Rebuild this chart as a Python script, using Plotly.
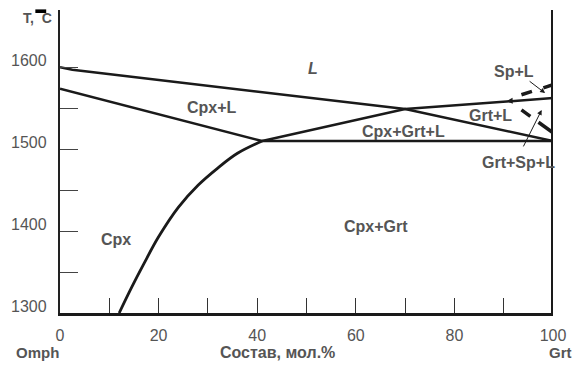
import plotly.graph_objects as go

# ---- data (composition, mol.% Grt ; temperature, C) ----
liquidus_x = [0, 2.5, 70, 100]
liquidus_y = [1600, 1597, 1549, 1510]

cpx_l_x = [0, 41]
cpx_l_y = [1574, 1510]

grt_liq_x = [41, 70, 100]
grt_liq_y = [1510, 1549, 1562.5]

solvus_x = [12, 14.5, 17, 20, 24, 28, 32, 36, 41]
solvus_y = [1300, 1331, 1360, 1393, 1429, 1456, 1477, 1495, 1510]

eutectic_x = [41, 100]
eutectic_y = [1510, 1510]

sp_upper_x = [93.6, 100]
sp_upper_y = [1566.5, 1578.7]

sp_lower_x = [93.6, 99.8]
sp_lower_y = [1548, 1521]

grt_edge_x = [100, 100]
grt_edge_y = [1300, 1670]

x_tick_vals = [0, 10, 20, 30, 40, 50, 60, 70, 80, 90, 100]
x_tick_text = ["0", "", "20", "", "40", "", "60", "", "80", "", "100"]
y_tick_vals = [1300, 1350, 1400, 1450, 1500, 1550, 1600]
y_label_vals = [1300, 1400, 1500, 1600]

region_labels = [
    ("L", 51.3, 1599, True),
    ("Cpx+L", 30.8, 1551, False),
    ("Sp+L", 92.1, 1595, False),
    ("Grt+L", 87.4, 1541.5, False),
    ("Cpx+Grt+L", 69.6, 1522, False),
    ("Grt+Sp+L", 93.1, 1484, False),
    ("Cpx", 11.4, 1390, False),
    ("Cpx+Grt", 64.1, 1406, False),
]

FONT = "Arial, Liberation Sans, sans-serif"
LINE = "#1a1a1a"
TXT = "#555555"

fig = go.Figure()

def add_line(x, y, width=2.5, dash=None, shape="linear"):
    fig.add_trace(go.Scatter(x=x, y=y, mode="lines",
                             line=dict(color=LINE, width=width, dash=dash, shape=shape,
                                       smoothing=1.0 if shape == "spline" else None),
                             showlegend=False, hoverinfo="skip", cliponaxis=False))

add_line(liquidus_x, liquidus_y)
add_line(cpx_l_x, cpx_l_y)
add_line(grt_liq_x, grt_liq_y)
add_line(solvus_x, solvus_y, width=2.8, shape="spline")
add_line(eutectic_x, eutectic_y)
add_line(sp_upper_x, sp_upper_y, width=3.5, dash="11px,12px")
add_line(sp_lower_x, sp_lower_y, width=3.5, dash="11px,10px,20px")
add_line(grt_edge_x, grt_edge_y, width=4)

annotations = []
for text, x, y, ital in region_labels:
    annotations.append(dict(
        x=x, y=y, xref="x", yref="y", showarrow=False,
        text=("<b><i>%s</i></b>" % text) if ital else ("<b>%s</b>" % text),
        font=dict(family=FONT, size=16, color=TXT)))

# y tick labels (offset slightly above the ticks, as in the original)
for v in y_label_vals:
    annotations.append(dict(
        x=0, y=v, xref="paper", yref="y", xanchor="right", yanchor="middle",
        xshift=-11, yshift=7, showarrow=False, text=str(v),
        font=dict(family=FONT, size=16, color=TXT)))

# arrows
annotations += [
    dict(x=98.4, y=1568.5, xref="x", yref="y", ax=-17, ay=-13, text="",
         showarrow=True, arrowhead=2, arrowsize=1, arrowwidth=1, arrowcolor=LINE),
    dict(x=97.7, y=1548, xref="x", yref="y", ax=-19, ay=38, text="",
         showarrow=True, arrowhead=2, arrowsize=1, arrowwidth=1, arrowcolor=LINE),
    dict(x=90.6, y=1558.8, xref="x", yref="y", ax=7, ay=-0.3, text="",
         showarrow=True, arrowhead=2, arrowsize=0.8, arrowwidth=1.5, arrowcolor=LINE),
]

# axis titles / end members
annotations += [
    dict(x=0, y=1, xref="paper", yref="paper", xanchor="center", yanchor="middle",
         xshift=-23, yshift=-8, showarrow=False, text="<b>T,  C</b>",
         font=dict(family=FONT, size=14, color=TXT)),
    dict(x=0, y=0, xref="paper", yref="paper", xanchor="center", yanchor="middle",
         xshift=-23, yshift=-39, showarrow=False, text="<b>Omph</b>",
         font=dict(family=FONT, size=15, color=TXT)),
    dict(x=0.442, y=0, xref="paper", yref="paper", xanchor="center", yanchor="middle",
         yshift=-39, showarrow=False, text="<b>Состав, мол.%</b>",
         font=dict(family=FONT, size=16, color=TXT)),
    dict(x=1, y=0, xref="paper", yref="paper", xanchor="center", yanchor="middle",
         xshift=7, yshift=-39, showarrow=False, text="<b>Grt</b>",
         font=dict(family=FONT, size=15, color=TXT)),
]

fig.update_layout(
    width=582, height=365,
    margin=dict(l=60, r=29, t=10, b=52),
    paper_bgcolor="white", plot_bgcolor="white",
    showlegend=False,
    annotations=annotations,
    shapes=[dict(type="rect", xref="paper", yref="paper", x0=-0.05, x1=-0.028,
                 y0=0.99, y1=1.002, fillcolor="black", line=dict(width=0))],
    xaxis=dict(range=[0, 100], tickmode="array", tickvals=x_tick_vals, ticktext=x_tick_text,
               ticks="inside", ticklen=15, tickwidth=1, tickcolor="#333333",
               showline=True, linewidth=3, linecolor=LINE, showgrid=False, zeroline=False,
               tickfont=dict(family=FONT, size=16, color=TXT), ticklabelstandoff=6),
    yaxis=dict(range=[1300, 1670], tickmode="array", tickvals=y_tick_vals,
               ticktext=[""] * len(y_tick_vals),
               ticks="inside", ticklen=18, tickwidth=1, tickcolor="#444444",
               showline=True, linewidth=2, linecolor="#222222", showgrid=False, zeroline=False),
)

fig.write_html("out.html")
